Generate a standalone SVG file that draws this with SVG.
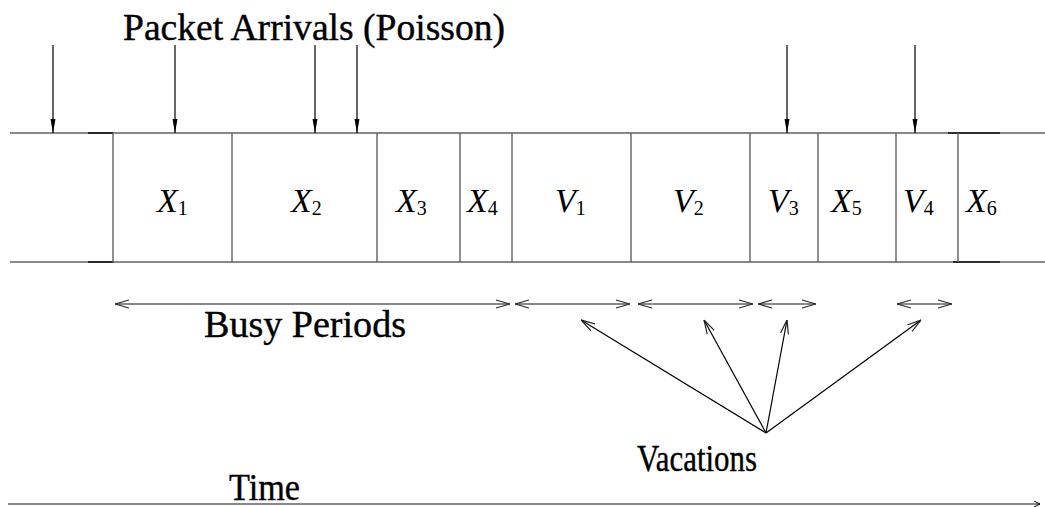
<svg xmlns="http://www.w3.org/2000/svg" width="1045" height="507" viewBox="0 0 1045 507">
<style>
.frame{stroke:#606060;stroke-width:1.4;fill:none}
.dark{stroke:#111;stroke-width:1.6;fill:none}
.arr{stroke:#000;stroke-width:1.2;fill:none}
.dbl{stroke:#606060;stroke-width:1.4;fill:none}
.lbl{font-family:"Liberation Serif","Times New Roman",serif;font-size:37px;fill:#000;stroke:#000;stroke-width:0.4}
.m{font-family:"Liberation Serif","Times New Roman",serif;font-size:34px;font-style:italic;fill:#000}
.s{font-size:20px;font-style:normal}
</style>
<defs>
<marker id="down" viewBox="0 0 14 8" refX="14" refY="4" markerWidth="14" markerHeight="8" markerUnits="userSpaceOnUse" orient="auto">
<path d="M0,1.5 L14,4 L0,6.5 Z" fill="#000"/>
</marker>
<marker id="open" viewBox="0 0 14 10" refX="14" refY="5" markerWidth="14" markerHeight="10" markerUnits="userSpaceOnUse" orient="auto-start-reverse">
<path d="M0,1 L14,5 L0,9" fill="none" stroke="#222" stroke-width="1.2"/>
</marker>
<marker id="tiny" viewBox="0 0 6 6" refX="6" refY="3" markerWidth="6" markerHeight="6" markerUnits="userSpaceOnUse" orient="auto">
<path d="M0,0 L6,3 L0,6" fill="none" stroke="#000" stroke-width="1"/>
</marker>
</defs>
<rect width="1045" height="507" fill="#fff"/>

<g id="timeline">
<line class="frame" x1="10" y1="133" x2="1045" y2="133"/>
<line class="frame" x1="10" y1="262" x2="1045" y2="262"/>
<line class="dark" x1="88" y1="133" x2="113" y2="133"/>
<line class="dark" x1="88" y1="262" x2="113" y2="262"/>
<line class="dark" x1="948" y1="133" x2="1000" y2="133"/>
<line class="dark" x1="953" y1="262" x2="1000" y2="262"/>
<line class="frame" x1="113" y1="133" x2="113" y2="262"/>
<line class="frame" x1="232" y1="133" x2="232" y2="262"/>
<line class="frame" x1="377" y1="133" x2="377" y2="262"/>
<line class="frame" x1="460" y1="133" x2="460" y2="262"/>
<line class="frame" x1="512" y1="133" x2="512" y2="262"/>
<line class="frame" x1="631" y1="133" x2="631" y2="262"/>
<line class="frame" x1="750" y1="133" x2="750" y2="262"/>
<line class="frame" x1="818" y1="133" x2="818" y2="262"/>
<line class="frame" x1="896" y1="133" x2="896" y2="262"/>
<line class="frame" x1="958" y1="133" x2="958" y2="262"/>
</g>

<g id="labels">
<text class="m" x="157" y="212">X<tspan class="s" dy="3">1</tspan></text>
<text class="m" x="291" y="212">X<tspan class="s" dy="3">2</tspan></text>
<text class="m" x="396" y="212">X<tspan class="s" dy="3">3</tspan></text>
<text class="m" x="467" y="212">X<tspan class="s" dy="3">4</tspan></text>
<text class="m" x="555" y="212">V<tspan class="s" dy="3">1</tspan></text>
<text class="m" x="673" y="212">V<tspan class="s" dy="3">2</tspan></text>
<text class="m" x="768" y="212">V<tspan class="s" dy="3">3</tspan></text>
<text class="m" x="831" y="212">X<tspan class="s" dy="3">5</tspan></text>
<text class="m" x="903" y="212">V<tspan class="s" dy="3">4</tspan></text>
<text class="m" x="966" y="212">X<tspan class="s" dy="3">6</tspan></text>
</g>

<g id="titles">
<text class="lbl" x="123" y="40" textLength="382" lengthAdjust="spacingAndGlyphs">Packet Arrivals (Poisson)</text>
<text class="lbl" x="204" y="337" textLength="202" lengthAdjust="spacingAndGlyphs">Busy Periods</text>
<text class="lbl" x="637" y="471" textLength="120" lengthAdjust="spacingAndGlyphs">Vacations</text>
<text class="lbl" x="229" y="500" font-size="32" textLength="71" lengthAdjust="spacingAndGlyphs">Time</text>
</g>

<g id="connectors">
<line class="arr" x1="53" y1="45" x2="53" y2="133" marker-end="url(#down)"/>
<line class="arr" x1="175" y1="45" x2="175" y2="133" marker-end="url(#down)"/>
<line class="arr" x1="315" y1="45" x2="315" y2="133" marker-end="url(#down)"/>
<line class="arr" x1="357" y1="45" x2="357" y2="133" marker-end="url(#down)"/>
<line class="arr" x1="787" y1="45" x2="787" y2="133" marker-end="url(#down)"/>
<line class="arr" x1="915" y1="45" x2="915" y2="133" marker-end="url(#down)"/>

<line class="dbl" x1="115" y1="304" x2="510" y2="304" marker-start="url(#open)" marker-end="url(#open)"/>
<line class="dbl" x1="515" y1="304" x2="630" y2="304" marker-start="url(#open)" marker-end="url(#open)"/>
<line class="dbl" x1="638" y1="304" x2="753" y2="304" marker-start="url(#open)" marker-end="url(#open)"/>
<line class="dbl" x1="758" y1="304" x2="816" y2="304" marker-start="url(#open)" marker-end="url(#open)"/>
<line class="dbl" x1="897" y1="304" x2="952" y2="304" marker-start="url(#open)" marker-end="url(#open)"/>

<line class="arr" x1="766" y1="433" x2="581" y2="320" marker-end="url(#open)"/>
<line class="arr" x1="766" y1="433" x2="704" y2="320" marker-end="url(#open)"/>
<line class="arr" x1="766" y1="433" x2="787" y2="320" marker-end="url(#open)"/>
<line class="arr" x1="766" y1="433" x2="921" y2="320" marker-end="url(#open)"/>

<line class="frame" x1="8" y1="504" x2="1040" y2="504" marker-end="url(#tiny)"/>
</g>
</svg>
